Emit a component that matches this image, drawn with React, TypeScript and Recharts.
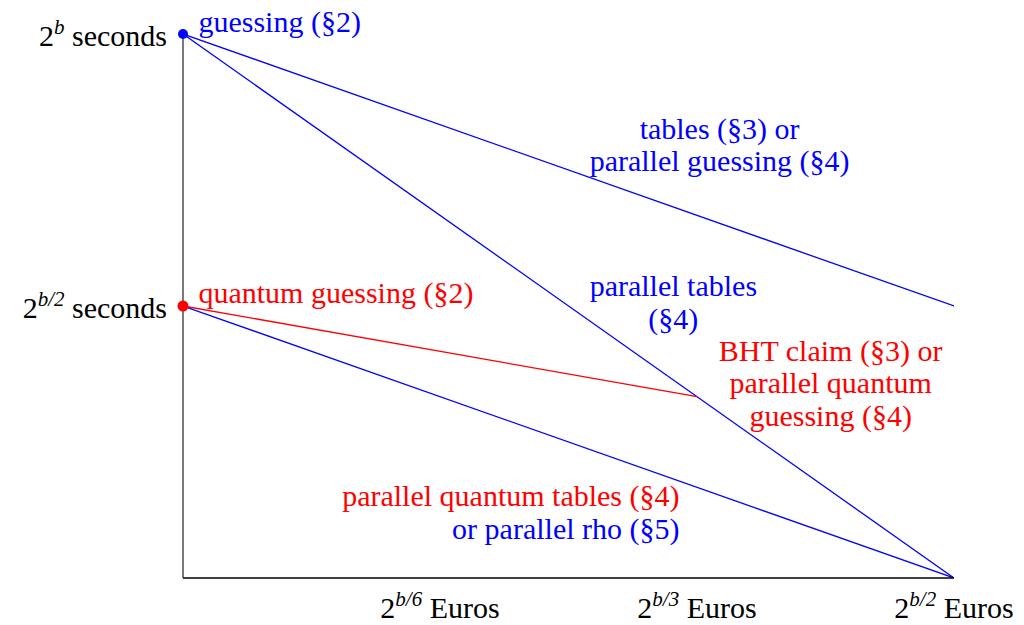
import { LineChart, Line, XAxis, YAxis, ReferenceDot } from "recharts";

const FONT = "Liberation Serif, DejaVu Serif, serif";
const BLUE = "#0000ff";
const RED = "#ff0000";

// exponents as fractions of b (log2 of cost in Euros / time in seconds)
const costTicks = [1 / 6, 1 / 3, 1 / 2];
const costTickLabels = ["b/6", "b/3", "b/2"];
const timeTicks = [1 / 2, 1];
const timeTickLabels = ["b/2", "b"];

const guessingCost = [0, 1 / 2];
const guessingTime = [1, 1 / 2];
const tablesCost = [0, 1 / 2];
const tablesTime = [1, 0];
const quantumCost = [0, 1 / 3];
const quantumTime = [1 / 2, 1 / 3];
const quantumTablesCost = [0, 1 / 2];
const quantumTablesTime = [1 / 2, 0];

const toRows = (cost: number[], time: number[]) =>
  cost.map((c, i) => ({ c, t: time[i] }));

const series = [
  { name: "guessing", rows: toRows(guessingCost, guessingTime), color: BLUE },
  { name: "tables", rows: toRows(tablesCost, tablesTime), color: BLUE },
  { name: "quantum", rows: toRows(quantumCost, quantumTime), color: RED },
  { name: "quantumTables", rows: toRows(quantumTablesCost, quantumTablesTime), color: BLUE },
];

const notes = [
  { lines: ["guessing (§2)"], color: BLUE, c: 0.01, t: 1.004, anchor: "start" },
  { lines: ["tables (§3) or", "parallel guessing (§4)"], color: BLUE, c: 0.348, t: 0.807, anchor: "middle" },
  { lines: ["parallel tables", "(§4)"], color: BLUE, c: 0.318, t: 0.518, anchor: "middle" },
  { lines: ["quantum guessing (§2)"], color: RED, c: 0.01, t: 0.506, anchor: "start" },
  { lines: ["BHT claim (§3) or", "parallel quantum", "guessing (§4)"], color: RED, c: 0.42, t: 0.399, anchor: "middle" },
  { lines: ["parallel quantum tables (§4)"], color: RED, c: 0.322, t: 0.132, anchor: "end" },
  { lines: ["or parallel rho (§5)"], color: BLUE, c: 0.322, t: 0.072, anchor: "end" },
];

const LINE_H = 32.5;
const textStyle = { fontFamily: FONT, fontSize: 30 };

const Pow = ({ exp, unit }: { exp: string; unit: string }) => (
  <>
    2
    <tspan style={{ fontSize: 21, fontStyle: "italic" }} dy={-12}>{exp}</tspan>
    <tspan dy={12}>{" " + unit}</tspan>
  </>
);

const CostTick = (props: any) => {
  const { x, y, payload } = props;
  const i = costTicks.findIndex((v) => Math.abs(v - payload.value) < 1e-6);
  return (
    <text x={x} y={y + 40} textAnchor="middle" style={textStyle} fill="#000">
      <Pow exp={costTickLabels[i]} unit="Euros" />
    </text>
  );
};

const TimeTick = (props: any) => {
  const { x, y, payload } = props;
  const i = timeTicks.findIndex((v) => Math.abs(v - payload.value) < 1e-6);
  return (
    <text x={x} y={y + 12} textAnchor="end" style={textStyle} fill="#000">
      <Pow exp={timeTickLabels[i]} unit="seconds" />
    </text>
  );
};

const noteContent = (n: (typeof notes)[number]) => (props: any) => {
  const vb = props.viewBox || {};
  const x = vb.x + (vb.width || 0) / 2;
  const y = vb.y + (vb.height || 0) / 2;
  return (
    <text x={x} y={y} textAnchor={n.anchor} style={textStyle} fill={n.color}>
      {n.lines.map((l, i) => (
        <tspan key={i} x={x} y={y + i * LINE_H}>
          {l}
        </tspan>
      ))}
    </text>
  );
};

export default function App() {
  return (
    <div style={{ position: "absolute", left: 0, top: 0, background: "#fff" }}>
      <LineChart width={1024} height={625} margin={{ top: 34, right: 70, bottom: 0, left: 0 }}>
        <XAxis
          dataKey="c"
          type="number"
          domain={[0, 0.5]}
          ticks={costTicks}
          tickLine={false}
          tickSize={0}
          tickMargin={0}
          height={47}
          axisLine={{ stroke: "#000", strokeWidth: 1.3 }}
          tick={<CostTick />}
          allowDataOverflow
        />
        <YAxis
          dataKey="t"
          type="number"
          domain={[0, 1]}
          ticks={timeTicks}
          tickLine={false}
          tickSize={0}
          tickMargin={16}
          width={183}
          axisLine={{ stroke: "#222", strokeWidth: 1.2 }}
          tick={<TimeTick />}
          allowDataOverflow
        />
        {series.map((s) => (
          <Line
            key={s.name}
            data={s.rows}
            dataKey="t"
            stroke={s.color}
            strokeWidth={1.3}
            dot={false}
            activeDot={false}
            isAnimationActive={false}
          />
        ))}
        <ReferenceDot x={0} y={1} r={5} fill={BLUE} stroke="none" ifOverflow="visible" />
        <ReferenceDot x={0} y={0.5} r={5.5} fill={RED} stroke="none" ifOverflow="visible" />
        {notes.map((n, i) => (
          <ReferenceDot
            key={i}
            x={n.c}
            y={n.t}
            r={0.01}
            fill="none"
            stroke="none"
            ifOverflow="visible"
            label={{ content: noteContent(n) }}
          />
        ))}
      </LineChart>
    </div>
  );
}
